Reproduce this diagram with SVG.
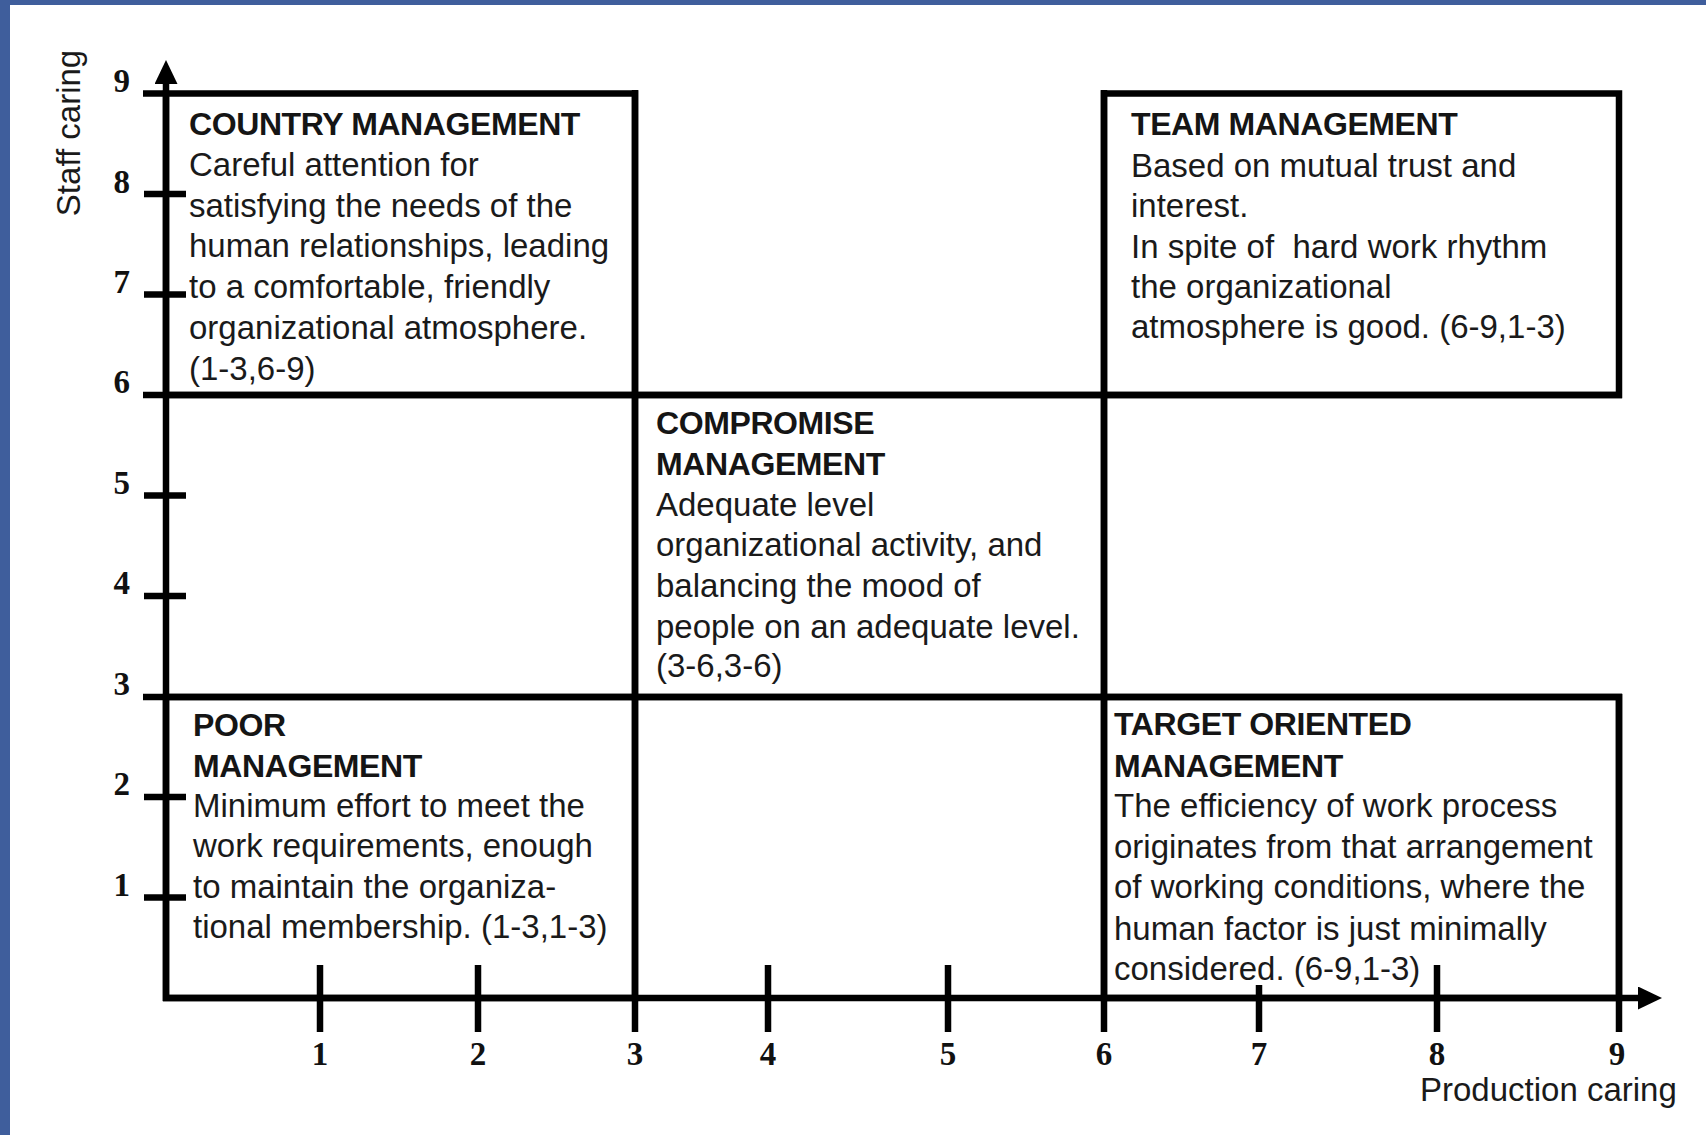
<svg xmlns="http://www.w3.org/2000/svg" width="1706" height="1135" viewBox="0 0 1706 1135">
  <style>
    .frame { fill: #3f5e9c; }
    .ln { stroke: #000; stroke-width: 6.5; fill: none; stroke-linecap: butt; }
    .box { stroke: #000; stroke-width: 6.5; fill: none; }
    .num { font-family: "Liberation Serif", "Times New Roman", serif; font-weight: bold; font-size: 33px; fill: #111; }
    .ttl { font-family: "Liberation Sans", Arial, sans-serif; font-weight: bold; font-size: 32px; letter-spacing: -0.4px; fill: #151515; }
    .txt { font-family: "Liberation Sans", Arial, sans-serif; font-size: 33px; fill: #1a1a1a; }
    .ax { font-family: "Liberation Sans", Arial, sans-serif; font-size: 33px; fill: #1a1a1a; }
  </style>
  <defs>
    <marker id="arrow" viewBox="0 0 24 23" refX="0" refY="11.5" markerWidth="24" markerHeight="23" markerUnits="userSpaceOnUse" orient="auto">
      <path d="M0,0 L24,11.5 L0,23 Z" fill="#000"/>
    </marker>
  </defs>

  <!-- page -->
  <rect x="0" y="0" width="1706" height="1135" fill="#fff"/>
  <rect class="frame" x="0" y="0" width="1706" height="5"/>
  <rect class="frame" x="0" y="0" width="10" height="1135"/>

  <!-- axes, grid lines and ticks -->
  <g id="connectors">
    <!-- vertical axis: staff caring -->
    <line class="ln" x1="166" y1="1001" x2="166" y2="84" marker-end="url(#arrow)"/>
    <!-- horizontal axis: production caring -->
    <line class="ln" x1="163" y1="998" x2="1638" y2="998" marker-end="url(#arrow)"/>
    <!-- grid lines -->
    <line class="ln" x1="143" y1="395" x2="1622" y2="395"/>
    <line class="ln" x1="143" y1="697" x2="1622" y2="697"/>
    <line class="ln" x1="635" y1="90" x2="635" y2="1032"/>
    <line class="ln" x1="1104" y1="90" x2="1104" y2="1032"/>
    <line class="ln" x1="1619" y1="694" x2="1619" y2="1032"/>
    <!-- y ticks -->
    <line class="ln" x1="143" y1="93.5" x2="166" y2="93.5"/>
    <line class="ln" x1="144" y1="194" x2="186" y2="194"/>
    <line class="ln" x1="144" y1="294.5" x2="186" y2="294.5"/>
    <line class="ln" x1="144" y1="495.5" x2="186" y2="495.5"/>
    <line class="ln" x1="144" y1="596" x2="186" y2="596"/>
    <line class="ln" x1="144" y1="797" x2="186" y2="797"/>
    <line class="ln" x1="144" y1="897.5" x2="186" y2="897.5"/>
    <!-- x ticks -->
    <line class="ln" x1="320" y1="965" x2="320" y2="1032"/>
    <line class="ln" x1="478" y1="965" x2="478" y2="1032"/>
    <line class="ln" x1="768" y1="965" x2="768" y2="1032"/>
    <line class="ln" x1="948" y1="965" x2="948" y2="1032"/>
    <line class="ln" x1="1259" y1="985" x2="1259" y2="1032"/>
    <line class="ln" x1="1437" y1="965" x2="1437" y2="1032"/>
  </g>

  <!-- scale numbers -->
  <g id="y-scale" class="num" text-anchor="end">
    <text x="130" y="92">9</text>
    <text x="130" y="193">8</text>
    <text x="130" y="293">7</text>
    <text x="130" y="393">6</text>
    <text x="130" y="494">5</text>
    <text x="130" y="594">4</text>
    <text x="130" y="695">3</text>
    <text x="130" y="795">2</text>
    <text x="130" y="896">1</text>
  </g>
  <g id="x-scale" class="num" text-anchor="middle">
    <text x="320" y="1065">1</text>
    <text x="478" y="1065">2</text>
    <text x="635" y="1065">3</text>
    <text x="768" y="1065">4</text>
    <text x="948" y="1065">5</text>
    <text x="1104" y="1065">6</text>
    <text x="1259" y="1065">7</text>
    <text x="1437" y="1065">8</text>
    <text x="1617" y="1065">9</text>
  </g>

  <!-- axis titles -->
  <text id="y-title" class="ax" text-anchor="middle" transform="translate(80,133) rotate(-90)">Staff caring</text>
  <text id="x-title" class="ax" x="1420" y="1101">Production caring</text>

  <!-- styles of management -->
  <g id="country-management">
    <rect class="box" x="166" y="93.5" width="469" height="301.5"/>
    <text class="ttl" x="189" y="135">COUNTRY MANAGEMENT</text>
    <text class="txt" x="189" y="176">Careful attention for</text>
    <text class="txt" x="189" y="217">satisfying the needs of the</text>
    <text class="txt" x="189" y="257">human relationships, leading</text>
    <text class="txt" x="189" y="298">to a comfortable, friendly</text>
    <text class="txt" x="189" y="339">organizational atmosphere.</text>
    <text class="txt" x="189" y="380">(1-3,6-9)</text>
  </g>

  <g id="team-management">
    <rect class="box" x="1104" y="93.5" width="515" height="301.5"/>
    <text class="ttl" x="1131" y="135">TEAM MANAGEMENT</text>
    <text class="txt" x="1131" y="177">Based on mutual trust and</text>
    <text class="txt" x="1131" y="217">interest.</text>
    <text class="txt" x="1131" y="258" xml:space="preserve">In spite of  hard work rhythm</text>
    <text class="txt" x="1131" y="298">the organizational</text>
    <text class="txt" x="1131" y="338">atmosphere is good. (6-9,1-3)</text>
  </g>

  <g id="compromise-management">
    <rect class="box" x="635" y="395" width="469" height="302"/>
    <text class="ttl" x="656" y="434">COMPROMISE</text>
    <text class="ttl" x="656" y="475">MANAGEMENT</text>
    <text class="txt" x="656" y="516">Adequate level</text>
    <text class="txt" x="656" y="556">organizational activity, and</text>
    <text class="txt" x="656" y="597">balancing the mood of</text>
    <text class="txt" x="656" y="638">people on an adequate level.</text>
    <text class="txt" x="656" y="677">(3-6,3-6)</text>
  </g>

  <g id="poor-management">
    <rect class="box" x="166" y="697" width="469" height="301"/>
    <text class="ttl" x="193" y="736">POOR</text>
    <text class="ttl" x="193" y="777">MANAGEMENT</text>
    <text class="txt" x="193" y="817">Minimum effort to meet the</text>
    <text class="txt" x="193" y="857">work requirements, enough</text>
    <text class="txt" x="193" y="898">to maintain the organiza-</text>
    <text class="txt" x="193" y="938">tional membership. (1-3,1-3)</text>
  </g>

  <g id="target-oriented-management">
    <rect class="box" x="1104" y="697" width="515" height="301"/>
    <text class="ttl" x="1114" y="735">TARGET ORIENTED</text>
    <text class="ttl" x="1114" y="777">MANAGEMENT</text>
    <text class="txt" x="1114" y="817">The efficiency of work process</text>
    <text class="txt" x="1114" y="858">originates from that arrangement</text>
    <text class="txt" x="1114" y="898">of working conditions, where the</text>
    <text class="txt" x="1114" y="940">human factor is just minimally</text>
    <text class="txt" x="1114" y="980">considered. (6-9,1-3)</text>
  </g>
</svg>
